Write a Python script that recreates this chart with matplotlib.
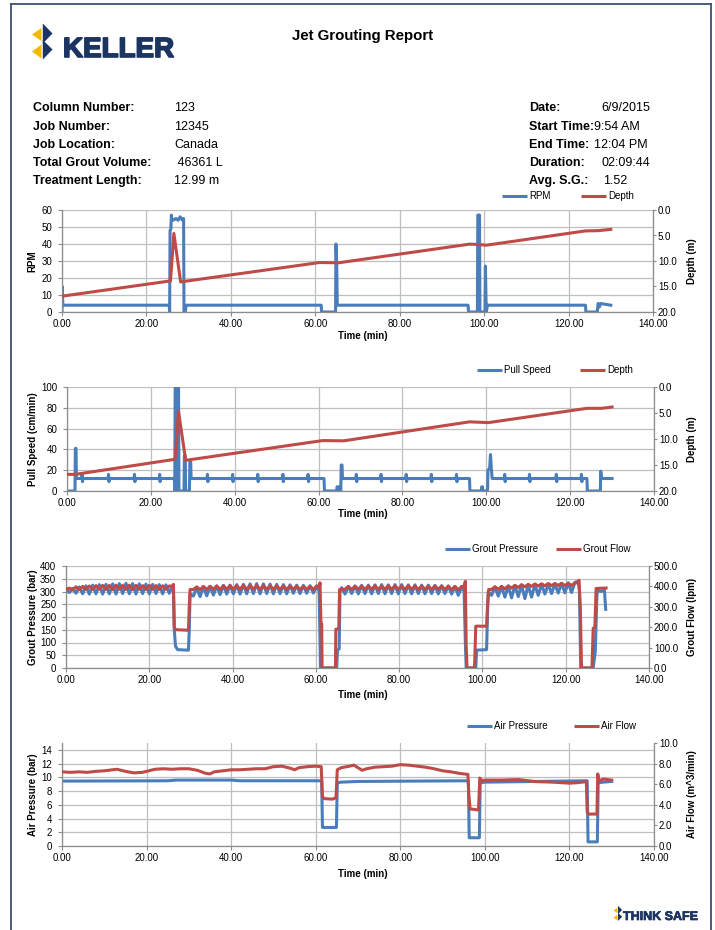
import matplotlib
matplotlib.use("Agg")
import matplotlib.pyplot as plt
import matplotlib.ticker as mticker
import matplotlib.patheffects as pe
from matplotlib.lines import Line2D
from matplotlib.patches import Polygon

plt.rcParams['font.family'] = ['Liberation Sans', 'DejaVu Sans']

# ------------------------------------------------------------------ data
x_ticks = [0, 20, 40, 60, 80, 100, 120, 140]

info_left_labels = ["Column Number:", "Job Number:", "Job Location:", "Total Grout Volume:", "Treatment Length:"]
info_left_values = ["123", "12345", "Canada", " 46361 L", "12.99 m"]
info_right_labels = ["Date:", "Start Time:", "End Time:", "Duration:", "Avg. S.G.:"]
info_right_values = ["6/9/2015", "9:54 AM", "12:04 PM", "02:09:44", "1.52"]

# Chart 1: RPM / Depth
rpm_time = [0, 0.05, 0.2, 25.4, 25.5, 25.6, 25.8, 25.9, 26.0, 26.3, 27.0, 27.5, 28.0, 28.5, 28.8,
            28.9, 29.2, 29.4, 61.4, 61.5, 64.8, 64.9, 65.1, 65.2, 96.2, 96.3, 98.4, 98.5, 98.9,
            99.0, 100.2, 100.3, 100.5, 100.8, 124.0, 124.1, 126.8, 127.0, 127.3, 127.6, 130.0]
rpm_value = [0, 15, 4, 4, 0, 48, 49, 57, 55, 54, 55, 54, 56, 54, 55,
             0, 0, 4, 4, 0, 0, 40, 25, 4, 4, 0, 0, 57, 57,
             0, 0, 27, 0, 4, 4, 0, 0, 5, 3, 5, 4]
depth1_time = [0, 25.7, 26.5, 28.1, 61.0, 65.5, 96.5, 98.5, 100.5, 124.0, 127.0, 130.0]
depth1_value = [16.9, 13.9, 4.6, 14.1, 10.3, 10.35, 6.7, 6.75, 6.9, 4.1, 4.05, 3.8]

# Chart 2: Pull speed / Depth
pull_time = [0, 1.9, 2.0, 2.15, 2.25,
             3.5, 3.6, 3.7, 3.8, 9.8, 9.9, 10.0, 10.1, 16.0, 16.1, 16.2, 16.3, 22.0, 22.1, 22.2, 22.3,
             25.6, 25.7, 25.8, 26.0, 26.1, 26.3, 26.6, 26.7, 27.9, 28.0, 28.2, 28.3, 29.2, 29.3, 29.5, 29.6,
             33.4, 33.5, 33.6, 33.7, 39.4, 39.5, 39.6, 39.7, 45.4, 45.5, 45.6, 45.7, 51.4, 51.5, 51.6, 51.7,
             57.4, 57.5, 57.6, 57.7,
             61.3, 61.4, 64.3, 64.4, 64.9, 65.0, 65.3, 65.4, 65.6, 65.7,
             68.9, 69.0, 69.1, 69.2, 74.8, 74.9, 75.0, 75.1, 80.8, 80.9, 81.0, 81.1, 86.8, 86.9, 87.0, 87.1,
             92.8, 92.9, 93.0, 93.1,
             96.0, 96.1, 98.8, 98.9, 99.1, 99.2, 100.3, 100.4, 100.8, 101.0, 101.2, 101.4,
             104.3, 104.4, 104.5, 104.6, 110.2, 110.3, 110.4, 110.5, 116.6, 116.7, 116.8, 116.9,
             122.6, 122.7, 122.8, 122.9,
             124.0, 124.1, 127.2, 127.3, 127.5, 130.0]
pull_value = [0, 0, 41, 41, 12,
              12, 16, 9, 12, 12, 16, 9, 12, 12, 16, 9, 12, 12, 16, 9, 12,
              12, 0, 100, 100, 0, 100, 100, 0, 0, 34, 34, 0, 0, 28, 28, 12,
              12, 16, 9, 12, 12, 16, 9, 12, 12, 16, 9, 12, 12, 16, 9, 12,
              12, 16, 9, 12,
              12, 0, 0, 4, 4, 0, 0, 25, 25, 12,
              12, 16, 9, 12, 12, 16, 9, 12, 12, 16, 9, 12, 12, 16, 9, 12,
              12, 16, 9, 12,
              12, 0, 0, 4, 4, 0, 0, 20, 22, 35, 22, 12,
              12, 16, 9, 12, 12, 16, 9, 12, 12, 16, 9, 12,
              12, 16, 9, 12,
              12, 0, 0, 19, 12, 12]
depth2_time = [0, 2.0, 25.8, 26.6, 28.3, 61.0, 66.0, 96.0, 100.5, 124.0, 127.5, 130.0]
depth2_value = [16.8, 16.8, 13.9, 4.7, 14.1, 10.3, 10.35, 6.7, 6.85, 4.1, 4.1, 3.85]

# Chart 3: Grout pressure / Grout flow
gp_time = [0.0, 0.8, 1.6, 2.4, 3.2, 4.0, 4.8, 5.6, 6.4, 7.2, 8.0, 8.8, 9.6, 10.4, 11.2, 12.0, 12.8,
           13.6, 14.4, 15.2, 16.0, 16.8, 17.6, 18.4, 19.2, 20.0, 20.8, 21.6, 22.4, 23.2, 24.0, 24.8, 25.6,
           25.8, 26.0, 26.3, 26.8, 29.4, 29.6, 29.8,
           30.6, 31.4, 32.2, 33.0, 33.8, 34.6, 35.4, 36.2, 37.0, 37.8, 38.6, 39.4, 40.2, 41.0, 41.8, 42.6,
           43.4, 44.2, 45.0, 45.8, 46.6, 47.4, 48.2, 49.0, 49.8, 50.6, 51.4, 52.2, 53.0, 53.8, 54.6, 55.4,
           56.2, 57.0, 57.8, 58.6, 59.4, 60.2,
           60.8, 61.0, 61.1, 65.0, 65.2, 65.6, 65.8, 66.2,
           67.0, 67.8, 68.6, 69.4, 70.2, 71.0, 71.8, 72.6, 73.4, 74.2, 75.0, 75.8, 76.6, 77.4, 78.2, 79.0,
           79.8, 80.6, 81.4, 82.2, 83.0, 83.8, 84.6, 85.4, 86.2, 87.0, 87.8, 88.6, 89.4, 90.2, 91.0, 91.8,
           92.6, 93.4, 94.2, 95.0,
           95.6, 95.9, 96.1, 98.4, 98.6, 101.0, 101.2, 101.4,
           102.2, 103.0, 103.8, 104.6, 105.4, 106.2, 107.0, 107.8, 108.6, 109.4, 110.2, 111.0, 111.8,
           112.6, 113.4, 114.2, 115.0, 115.8, 116.6, 117.4, 118.2, 119.0, 119.8, 120.6, 121.4, 122.2,
           123.0, 123.3, 123.6, 126.6, 127.1, 127.5, 127.8, 128.5, 129.3, 129.6]
gp_value = [305, 296, 312, 293, 318, 291, 322, 290, 325, 291, 327, 290, 328, 291, 330, 290, 331,
            292, 332, 291, 331, 290, 330, 292, 329, 291, 328, 292, 327, 291, 326, 293, 324,
            300, 150, 85, 72, 70, 150, 290,
            282, 315, 280, 318, 283, 320, 286, 322, 288, 324, 290, 325, 291, 327, 290, 328,
            291, 330, 292, 331, 291, 330, 292, 329, 291, 328, 292, 327, 291, 326, 293, 325,
            292, 324, 293, 323, 294, 322,
            300, 90, 0, 0, 70, 75, 300, 315,
            290, 320, 292, 322, 291, 324, 292, 325, 291, 326, 292, 327, 291, 326, 292, 327,
            291, 327, 292, 326, 291, 326, 292, 325, 291, 325, 292, 324, 291, 323, 292, 322,
            290, 320, 285, 318,
            300, 100, 0, 0, 70, 72, 200, 300,
            285, 318, 282, 320, 278, 322, 275, 324, 280, 326, 272, 326, 278,
            327, 285, 328, 290, 328, 292, 330, 294, 332, 295, 334, 296, 336,
            340, 300, 0, 0, 65, 290, 305, 300, 305, 230]
gf_time = [0.0, 0.8, 1.6, 2.4, 3.2, 4.0, 4.8, 5.6, 6.4, 7.2, 8.0, 8.8, 9.6, 10.4, 11.2, 12.0, 12.8,
           13.6, 14.4, 15.2, 16.0, 16.8, 17.6, 18.4, 19.2, 20.0, 20.8, 21.6, 22.4, 23.2, 24.0, 24.8, 25.6,
           25.8, 26.0, 26.3, 29.4, 29.6, 29.8,
           30.6, 31.4, 32.2, 33.0, 33.8, 34.6, 35.4, 36.2, 37.0, 37.8, 38.6, 39.4, 40.2, 41.0, 41.8, 42.6,
           43.4, 44.2, 45.0, 45.8, 46.6, 47.4, 48.2, 49.0, 49.8, 50.6, 51.4, 52.2, 53.0, 53.8, 54.6, 55.4,
           56.2, 57.0, 57.8, 58.6, 59.4, 60.2,
           60.8, 61.0, 61.2, 61.4, 61.5, 64.7, 64.8, 65.5, 65.7,
           67.0, 67.8, 68.6, 69.4, 70.2, 71.0, 71.8, 72.6, 73.4, 74.2, 75.0, 75.8, 76.6, 77.4, 78.2, 79.0,
           79.8, 80.6, 81.4, 82.2, 83.0, 83.8, 84.6, 85.4, 86.2, 87.0, 87.8, 88.6, 89.4, 90.2, 91.0, 91.8,
           92.6, 93.4, 94.2, 95.0,
           95.6, 95.9, 96.1, 96.3, 98.1, 98.4, 101.0, 101.2, 101.5,
           102.2, 103.0, 103.8, 104.6, 105.4, 106.2, 107.0, 107.8, 108.6, 109.4, 110.2, 111.0, 111.8,
           112.6, 113.4, 114.2, 115.0, 115.8, 116.6, 117.4, 118.2, 119.0, 119.8, 120.6, 121.4, 122.2,
           122.8, 123.2, 123.5, 123.8, 126.3, 126.6, 127.0, 127.3, 129.7]
gf_value = [385, 392, 383, 398, 384, 400, 386, 402, 385, 404, 386, 405, 385, 405, 384, 406, 386,
            405, 385, 406, 384, 405, 386, 404, 385, 405, 386, 404, 385, 403, 386, 402, 400,
            410, 200, 188, 185, 300, 385,
            385, 398, 384, 400, 385, 401, 386, 402, 385, 403, 386, 404, 385, 404, 386, 405,
            385, 405, 386, 404, 385, 404, 386, 403, 385, 403, 386, 402, 385, 402, 386, 401,
            385, 400, 386, 400, 385, 402,
            395, 418, 230, 215, 0, 0, 190, 192, 385,
            386, 400, 385, 401, 386, 402, 385, 402, 386, 403, 385, 402, 386, 403, 385, 403,
            386, 402, 385, 403, 386, 402, 385, 402, 386, 401, 385, 402, 386, 401, 385, 401,
            384, 400, 383, 400,
            400, 425, 110, 0, 0, 205, 205, 300, 385,
            385, 398, 386, 400, 388, 402, 392, 405, 395, 408, 398, 410, 400,
            412, 402, 413, 403, 414, 404, 414, 405, 415, 404, 415, 405, 416,
            418, 430, 300, 0, 0, 195, 200, 390, 392]

# Chart 4: Air pressure / Air flow
ap_time = [0, 25, 27, 40, 42, 61.4, 61.6, 64.9, 65.1, 66, 70, 96.1, 96.3, 98.7, 98.9, 100,
           124.2, 124.4, 126.6, 126.8, 128, 130]
ap_value = [9.45, 9.5, 9.6, 9.6, 9.5, 9.5, 2.7, 2.7, 9.2, 9.3, 9.4, 9.5, 1.2, 1.2, 9.2, 9.3,
            9.5, 0.6, 0.6, 9.2, 9.3, 9.4]
af_time = [0, 2, 4, 6, 8, 10, 12, 13, 15, 17, 19, 20, 22, 24, 26, 28, 30, 32, 34, 35, 36, 38, 40,
           42, 44, 46, 48, 50, 52, 54, 55, 56, 58, 60, 61.3, 61.6, 62, 64, 64.8, 65.1, 66, 68, 69,
           70, 71, 72, 74, 76, 78, 80, 82, 84, 86, 88, 90, 92, 94, 96, 96.2, 96.5, 98.5, 98.8,
           99.5, 100, 104, 108, 110, 112, 116, 120, 122, 124, 124.2, 124.5, 126.5, 126.7, 127.0,
           128, 130]
af_value = [7.2, 7.15, 7.2, 7.15, 7.25, 7.3, 7.4, 7.45, 7.25, 7.1, 7.15, 7.25, 7.45, 7.5, 7.45,
            7.5, 7.5, 7.35, 7.05, 7.0, 7.2, 7.3, 7.4, 7.4, 7.45, 7.5, 7.5, 7.7, 7.75, 7.55, 7.4,
            7.6, 7.7, 7.75, 7.7, 4.8, 4.6, 4.55, 4.7, 7.4, 7.6, 7.75, 7.85, 7.6, 7.35, 7.5, 7.65,
            7.7, 7.75, 7.9, 7.85, 7.75, 7.65, 7.5, 7.3, 7.2, 7.05, 6.95, 5.0, 3.6, 3.5, 6.6,
            6.3, 6.4, 6.4, 6.45, 6.35, 6.25, 6.2, 6.1, 6.15, 6.25, 3.3, 3.1, 3.1, 7.0, 6.3,
            6.5, 6.4]

# ------------------------------------------------------------------ layout
W, H = 715, 930
BLUE = '#4A7EBB'
RED = '#BE4B48'
NAVY = '#1C3461'
YELLOW = '#F5B800'
GRID = '#BFBFBF'
SPINE = '#8C8C8C'
BORDER = '#3B5078'

fig = plt.figure(figsize=(W / 100, H / 100), dpi=100)
fig.patch.set_facecolor('white')


def fx(x):
    return x / W


def fy(y):
    return 1 - y / H


# page border
for xs, ys in [((11, 11), (4, 930)), ((11, 711), (4, 4)), ((711, 711), (4, 930))]:
    fig.add_artist(Line2D([fx(xs[0]), fx(xs[1])], [fy(ys[0]), fy(ys[1])],
                          transform=fig.transFigure, color=BORDER, lw=1.3))


def draw_mark(ox, oy, s):
    yel = [[(41.5, 28), (32, 34.5), (41.5, 41)], [(41.5, 44.5), (32, 51.5), (41.5, 58.5)]]
    nav = [[(42.8, 23.5), (52.5, 33.5), (42.8, 43.5)], [(42.8, 40), (52.5, 49.5), (42.8, 59.5)]]
    for polys, col in [(yel, YELLOW), (nav, NAVY)]:
        for p in polys:
            pts = [(fx(ox + (x - 32) * s), fy(oy + (y - 24) * s)) for x, y in p]
            fig.add_artist(Polygon(pts, closed=True, transform=fig.transFigure,
                                   facecolor=col, edgecolor='none'))


draw_mark(32, 24, 1.0)
fig.text(fx(63), fy(57), "KELLER", fontsize=20, fontweight='heavy', color=NAVY,
         ha='left', va='baseline',
         path_effects=[pe.withStroke(linewidth=1.2, foreground=NAVY)])

fig.text(fx(363), fy(36), "Jet Grouting Report", fontsize=10.8, fontweight='bold',
         ha='center', va='center')

rows_y = [108, 127, 145, 163, 181]
right_val_x = [601, 594, 594, 602, 603]
for i, yy in enumerate(rows_y):
    fig.text(fx(33), fy(yy), info_left_labels[i], fontsize=9, fontweight='bold', va='center')
    fig.text(fx(174), fy(yy), info_left_values[i], fontsize=9, va='center')
    fig.text(fx(529), fy(yy), info_right_labels[i], fontsize=9, fontweight='bold', va='center')
    fig.text(fx(right_val_x[i]), fy(yy), info_right_values[i], fontsize=9, va='center')

# footer
draw_mark(613.5, 906, 0.42)
fig.text(fx(623), fy(920), "THINK SAFE", fontsize=9, fontweight='heavy', color=NAVY,
         ha='left', va='baseline',
         path_effects=[pe.withStroke(linewidth=0.5, foreground=NAVY)])


def legend_item(x0, x1, y, color, label):
    fig.add_artist(Line2D([fx(x0), fx(x1)], [fy(y), fy(y)], transform=fig.transFigure,
                          color=color, lw=2.2, solid_capstyle='butt'))
    fig.text(fx(x1 + 2), fy(y), label, fontsize=7, va='center', ha='left')


def make_chart(box, lt, lv, rt, rv, ylim, yticks, yfmt, ylabel, y2lim, y2ticks, y2label,
               xlab_y, legend):
    l, r, t, b = box
    ax = fig.add_axes([l / W, 1 - b / H, (r - l) / W, (b - t) / H])
    ax2 = ax.twinx()
    ax.plot(lt, lv, color=BLUE, lw=2.2)
    ax2.plot(rt, rv, color=RED, lw=2.2)
    ax.set_xlim(0, 140)
    ax.set_xticks(x_ticks)
    ax.xaxis.set_major_formatter(mticker.FormatStrFormatter('%.2f'))
    ax.set_ylim(*ylim)
    ax.set_yticks(yticks)
    ax.yaxis.set_major_formatter(mticker.FormatStrFormatter(yfmt))
    ax2.set_ylim(*y2lim)
    ax2.set_yticks(y2ticks)
    ax2.yaxis.set_major_formatter(mticker.FormatStrFormatter('%.1f'))
    ax.grid(True, color=GRID, lw=0.9)
    ax.set_axisbelow(True)
    for sp in ['top', 'right']:
        ax.spines[sp].set_visible(False)
    for sp in ['left', 'bottom']:
        ax.spines[sp].set_color(SPINE)
        ax.spines[sp].set_linewidth(0.9)
    for sp in ['top', 'left', 'bottom']:
        ax2.spines[sp].set_visible(False)
    ax2.spines['right'].set_color(SPINE)
    ax2.spines['right'].set_linewidth(0.9)
    ax.tick_params(axis='x', direction='out', length=3, width=0.8, color=SPINE,
                   labelsize=7, pad=2)
    ax.tick_params(axis='y', direction='out', length=3, width=0.8, color=SPINE,
                   labelsize=7, pad=4)
    ax2.tick_params(axis='y', direction='out', length=2, width=0.8, color=SPINE,
                    labelsize=7, pad=1.5)
    ax.set_xlabel("Time (min)", fontsize=7, fontweight='bold')
    ax.xaxis.set_label_coords(fx(363), fy(xlab_y), transform=fig.transFigure)
    ax.xaxis.label.set_verticalalignment('center')
    ax.set_ylabel(ylabel, fontsize=7, fontweight='bold')
    ax.yaxis.set_label_coords(fx(32.5), fy((t + b) / 2), transform=fig.transFigure)
    ax.yaxis.label.set_verticalalignment('center')
    ax2.set_ylabel(y2label, fontsize=7, fontweight='bold')
    ax2.yaxis.set_label_coords(fx(692), fy((t + b) / 2), transform=fig.transFigure)
    ax2.yaxis.label.set_verticalalignment('center')
    (bx0, bx1, bl), (rx0, rx1, rl), ly = legend
    legend_item(bx0, bx1, ly, BLUE, bl)
    legend_item(rx0, rx1, ly, RED, rl)
    return ax, ax2


make_chart((62, 653, 210, 312), rpm_time, rpm_value, depth1_time, depth1_value,
           (0, 60), [0, 10, 20, 30, 40, 50, 60], '%d', "RPM",
           (20, 0), [0, 5, 10, 15, 20], "Depth (m)", 336,
           ((502, 527, "RPM"), (581, 606, "Depth"), 196))

make_chart((67, 654, 387, 491), pull_time, pull_value, depth2_time, depth2_value,
           (0, 100), [0, 20, 40, 60, 80, 100], '%d', "Pull Speed (cm/min)",
           (20, 0), [0, 5, 10, 15, 20], "Depth (m)", 514,
           ((477, 502, "Pull Speed"), (580, 605, "Depth"), 370))

make_chart((66, 649, 566, 668), gp_time, gp_value, gf_time, gf_value,
           (0, 400), [0, 50, 100, 150, 200, 250, 300, 350, 400], '%d', "Grout Pressure (bar)",
           (0, 500), [0, 100, 200, 300, 400, 500], "Grout Flow (lpm)", 695,
           ((445, 470, "Grout Pressure"), (556, 581, "Grout Flow"), 549))

make_chart((62, 654, 743, 846), ap_time, ap_value, af_time, af_value,
           (0, 15), [0, 2, 4, 6, 8, 10, 12, 14], '%d', "Air Pressure (bar)",
           (0, 10), [0, 2, 4, 6, 8, 10], "Air Flow (m^3/min)", 874,
           ((467, 492, "Air Pressure"), (574, 599, "Air Flow"), 726))

fig.savefig('out.png', dpi=100)
